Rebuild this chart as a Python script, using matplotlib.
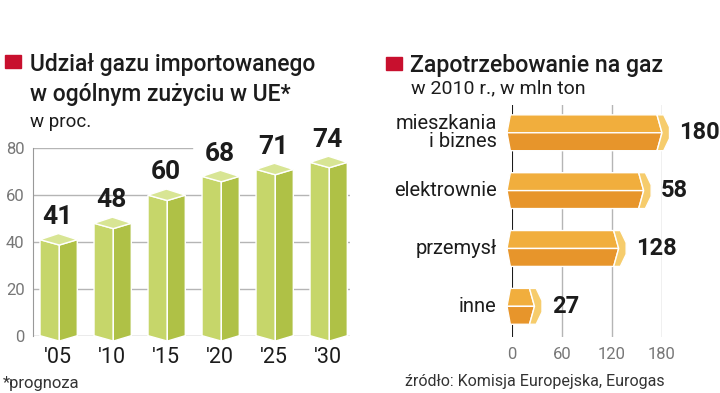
import matplotlib
matplotlib.use("Agg")
import matplotlib.pyplot as plt
from matplotlib.patches import Polygon

plt.rcParams['font.family'] = ['Roboto', 'DejaVu Sans']

# Dane: udzial gazu importowanego (w proc.)
lata = ["'05", "'10", "'15", "'20", "'25", "'30"]
udzial = [41, 48, 60, 68, 71, 74]

# Dane: zapotrzebowanie na gaz w 2010 r. (mln ton)
sektory = ["mieszkania\ni biznes", "elektrownie", "przemysł", "inne"]
zapotrzebowanie = [180, 58, 128, 27]          # etykiety
dlugosc_slupka = [180, 158, 128, 27]          # dlugosc slupka

W, H = 720, 393
fig = plt.figure(figsize=(7.2, 3.93), dpi=100)

def px_axes(x0, y0, x1, y1):
    return fig.add_axes([x0 / W, 1 - y1 / H, (x1 - x0) / W, (y1 - y0) / H])

ZIELONY_PRZOD = "#c6d66a"
ZIELONY_BOK = "#afc146"
ZIELONY_GORA = "#d8e594"
POM_GORA = "#f1ae3d"
POM_DOL = "#e7952b"
POM_KONIEC = "#f6cc6c"
SZARY = "#777777"
CZARNY = "#1c1c1c"

# ---------- lewy wykres ----------
ax1 = px_axes(33, 148.3, 350, 335.7)
ax1.set_xlim(-0.13, 5.74)
ax1.set_ylim(0, 80)
for s in ["top", "right", "bottom"]:
    ax1.spines[s].set_visible(False)
ax1.spines["left"].set_color("#999999")
ax1.set_xticks([])
ax1.set_yticks([0, 20, 40, 60, 80])
ax1.tick_params(axis="y", length=0, pad=6, labelsize=12, labelcolor=SZARY)
for yv in [0, 20, 40, 60]:
    ax1.axhline(yv, color="#9a9a9a" if yv == 0 else "#b5b5b5", lw=1, zorder=1)
ax1.axhline(80, xmax=0.5, color="#b5b5b5", lw=1, zorder=1)

fw, bw, d = 0.357, 0.69, 2.3
for i, (lab, v) in enumerate(zip(lata, udzial)):
    front = [(i, 0), (i, v), (i + fw, v - d), (i + fw, -d)]
    side = [(i + fw, -d), (i + fw, v - d), (i + bw, v), (i + bw, 0)]
    top = [(i, v), (i + fw, v - d), (i + bw, v), (i + 0.34, v + 2.6)]
    for pts, c in [(front, ZIELONY_PRZOD), (side, ZIELONY_BOK), (top, ZIELONY_GORA)]:
        ax1.add_patch(Polygon(pts, closed=True, fc=c, ec="white", lw=1,
                              zorder=3, clip_on=False))
    ax1.annotate(str(v), (i + 0.33, v + 2.6), xytext=(0, 7), textcoords="offset points",
                 ha="center", va="baseline", fontsize=19, fontweight="bold",
                 color=CZARNY, annotation_clip=False)
    ax1.text(i + 0.33, -11.7, lab, ha="center", va="baseline", fontsize=15.5,
             color=CZARNY, clip_on=False)

# ---------- prawy wykres ----------
ax2 = px_axes(512, 105, 662, 337)
ax2.set_xlim(0, 180)
ax2.set_ylim(3.53, -0.48)
for s in ax2.spines.values():
    s.set_visible(False)
ax2.set_yticks([])
ax2.set_xticks([0, 60, 120, 180])
ax2.tick_params(axis="x", length=0, pad=7, labelsize=12, labelcolor=SZARY)
for xv in [60, 120, 180]:
    ax2.axvline(xv, color="#b5b5b5", lw=1, zorder=1)
ax2.axvline(0, color=CZARNY, lw=1.5, zorder=1)

h = 0.31
for i, (nazwa, val, L) in enumerate(zip(sektory, zapotrzebowanie, dlugosc_slupka)):
    c = i
    top = [(-6, c), (-2, c - h), (L - 6, c - h), (L, c)]
    bot = [(-6, c), (-2, c + h), (L - 6, c + h), (L, c)]
    cap = [(L - 6, c - h), (L + 2, c - h), (L + 9, c - 0.1), (L + 9, c + 0.1),
           (L + 2, c + h), (L - 6, c + h), (L, c)]
    for pts, col in [(top, POM_GORA), (bot, POM_DOL), (cap, POM_KONIEC)]:
        ax2.add_patch(Polygon(pts, closed=True, fc=col, ec="white", lw=1,
                              zorder=3, clip_on=False))
    ax2.annotate(str(val), (L + 9, c), xytext=(7, 0), textcoords="offset points",
                 ha="left", va="center", fontsize=17, fontweight="bold",
                 color=CZARNY, annotation_clip=False)
    ax2.annotate(nazwa, (0, c), xytext=(-11, 0), textcoords="offset points",
                 ha="right", va="center", fontsize=14.5, color=CZARNY,
                 linespacing=0.95, annotation_clip=False)

# ---------- tytuly ----------
def ft(x, y, s, **kw):
    fig.text(x / W, 1 - y / H, s, va="baseline", **kw)

fig.patches.append(plt.Rectangle((5 / W, 1 - 68 / H), 16 / W, 13 / H,
                                 transform=fig.transFigure, color="#c8102e"))
fig.patches.append(plt.Rectangle((386 / W, 1 - 70 / H), 16 / W, 13 / H,
                                 transform=fig.transFigure, color="#c8102e"))
ft(30, 71, "Udział gazu importowanego", fontsize=16.5, fontweight="medium", color=CZARNY)
ft(30, 101, "w ogólnym zużyciu w UE*", fontsize=16.5, fontweight="medium", color=CZARNY)
ft(30, 127, "w proc.", fontsize=13.5, color=CZARNY)
ft(410, 72, "Zapotrzebowanie na gaz", fontsize=16.7, fontweight="medium", color=CZARNY)
ft(411, 93, "w 2010 r., w mln ton", fontsize=14, color=CZARNY)
ft(3, 388, "*prognoza", fontsize=12, color="#333333")
ft(405, 386, "źródło: Komisja Europejska, Eurogas", fontsize=11.5, color="#333333")

fig.savefig("out.png", dpi=100)
